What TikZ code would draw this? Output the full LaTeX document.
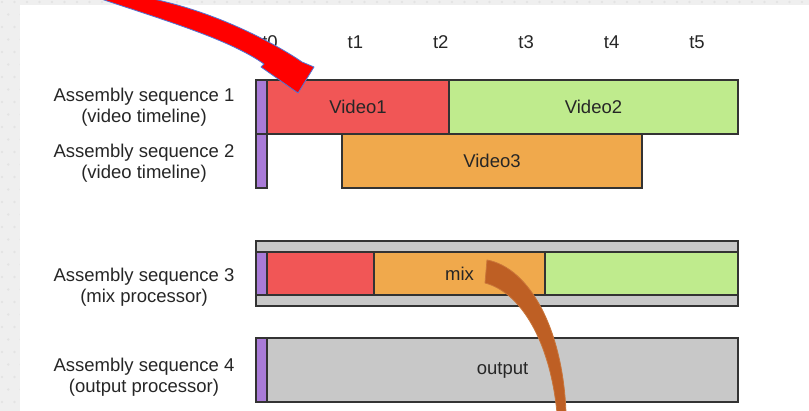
\documentclass[tikz,border=0pt]{standalone}
\usepackage{fontspec}
\setmainfont{Liberation Sans}
\definecolor{seqpurple}{HTML}{A97BD8}
\definecolor{vidred}{HTML}{F15656}
\definecolor{vidgreen}{HTML}{BFEB8D}
\definecolor{vidorange}{HTML}{F0A94C}
\definecolor{procgray}{HTML}{C8C8C8}
\definecolor{bggray}{HTML}{EFEFEF}
\definecolor{bgdot}{HTML}{E3E3E3}
\definecolor{pointerred}{HTML}{FF0000}
\definecolor{pointerblue}{HTML}{4F74D6}
\definecolor{pointerbrown}{HTML}{BE5F24}
\definecolor{pointeredge}{HTML}{C9753A}
\begin{document}
\begin{tikzpicture}[x=1pt,y=-1pt,
  lab/.style={font=\fontsize{18.5}{21}\selectfont, text=black!85, align=center, inner sep=0},
  seg/.style={draw=black!80, line width=1.2pt, inner sep=0, outer sep=0, anchor=north west,
              font=\fontsize{18.5}{21}\selectfont, text=black!85},
]
\useasboundingbox (0,0) rectangle (809,411);
% page background with a faint dot texture
\fill[bggray] (0,0) rectangle (809,411);
\begin{scope}
  \clip (0,0) rectangle (20,411) (20,0) rectangle (809,5);
  \foreach \r in {0,...,33}
    \foreach \c in {0,...,65}
      \fill[bgdot] ({2+12.5*\c+6.25*mod(\r,2)},{2+12.5*\r}) circle (1.4);
\end{scope}
\fill[white] (20,5) rectangle (809,411);

% time axis
\foreach \i in {0,...,5}
  \node[lab] (t\i) at ({270+85.4*\i},42) {t\i};

% row labels
\node[lab] (l1) at (144,107.5) {Assembly sequence 1\\(video timeline)};
\node[lab] (l2) at (144,163.5) {Assembly sequence 2\\(video timeline)};
\node[lab] (l3) at (144,287.5) {Assembly sequence 3\\(mix processor)};
\node[lab] (l4) at (144,377) {Assembly sequence 4\\(output processor)};

% sequence 1
\node[seg, fill=seqpurple, minimum width=11, minimum height=54] (p1) at (256,80) {};
\node[seg, fill=vidred, minimum width=182, minimum height=54] (v1) at (267,80) {Video1};
\node[seg, fill=vidgreen, minimum width=289, minimum height=54] (v2) at (449,80) {Video2};
% sequence 2
\node[seg, fill=seqpurple, minimum width=11, minimum height=54] (p2) at (256,134) {};
\node[seg, fill=vidorange, minimum width=300, minimum height=54] (v3) at (342,134) {Video3};
% sequence 3
\node[seg, fill=procgray, minimum width=482, minimum height=65] (g3) at (256,241) {};
\node[seg, fill=seqpurple, minimum width=11, minimum height=43] (p3) at (256,252) {};
\node[seg, fill=vidred, minimum width=107, minimum height=43] (r3) at (267,252) {};
\node[seg, fill=vidorange, minimum width=171, minimum height=43] (m3) at (374,252) {mix};
\node[seg, fill=vidgreen, minimum width=193, minimum height=43] (gr3) at (545,252) {};
% sequence 4
\node[seg, fill=seqpurple, minimum width=11, minimum height=64] (p4) at (256,338) {};
\node[seg, fill=procgray, minimum width=471, minimum height=64] (o4) at (267,338) {output};

% red pointer arrow
\filldraw[fill=pointerred, draw=pointerblue, line width=0.8pt, line join=round]
  (98,-2) .. controls (170,22) and (230,40) .. (264,64) -- (261,67) -- (298,93)
  -- (314,67) -- (302,62) .. controls (282,48) and (220,12) .. (148,-2) -- cycle;

% brown pointer stroke
\filldraw[fill=pointerbrown, draw=pointeredge, line width=0.8pt, line join=round]
  (487,260) .. controls (530,268) and (563,330) .. (566,413) -- (557,413)
  .. controls (550,340) and (520,292) .. (485,283) -- cycle;
\end{tikzpicture}
\end{document}
